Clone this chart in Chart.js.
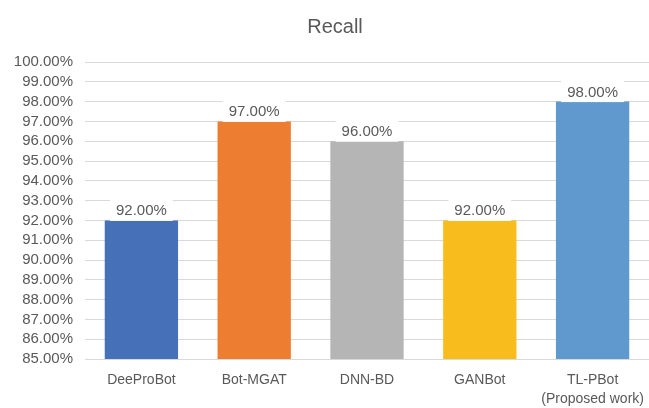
<!DOCTYPE html>
<html>
<head>
<meta charset="utf-8">
<script src="https://cdn.jsdelivr.net/npm/chart.js@4"></script>
<style>
html,body{margin:0;padding:0;background:#fff;}
#wrap{width:649px;height:408px;}
</style>
</head>
<body>
<div id="wrap"><canvas id="c" width="649" height="408"></canvas></div>
<script>
const categories = ["DeeProBot", "Bot-MGAT", "DNN-BD", "GANBot", ["TL-PBot", "(Proposed work)"]];
const recallValues = [92.00, 97.00, 96.00, 92.00, 98.00];
const barColors = ["#4670B8", "#ED7D31", "#B5B5B5", "#F8BD1C", "#5F99CD"];
const chartTitle = "Recall";
const yMin = 85, yMax = 100, yStep = 1;
const FONT = "'Liberation Sans', Arial, sans-serif";
const TXT = "#595959";

const extrasPlugin = {
  id: 'extras',
  afterDraw(chart) {
    const ctx = chart.ctx;
    ctx.save();
    ctx.font = "20px " + FONT;
    ctx.fillStyle = TXT;
    ctx.textAlign = "center";
    ctx.textBaseline = "alphabetic";
    ctx.fillText(chartTitle, 335, 33);
    ctx.restore();
  },
  afterDatasetsDraw(chart) {
    const ctx = chart.ctx;
    const meta = chart.getDatasetMeta(0);
    ctx.save();
    ctx.font = "15px " + FONT;
    ctx.textAlign = "center";
    ctx.textBaseline = "alphabetic";
    meta.data.forEach((el, i) => {
      const txt = recallValues[i].toFixed(2) + "%";
      const w = ctx.measureText(txt).width;
      const x = el.x, y = el.y;
      ctx.fillStyle = "#ffffff";
      ctx.fillRect(x - w / 2 - 6, y - 23, w + 12, 23.5);
      ctx.fillStyle = TXT;
      ctx.fillText(txt, x, y - 5);
    });
    ctx.restore();
  }
};

new Chart(document.getElementById('c'), {
  type: 'bar',
  data: {
    labels: categories,
    datasets: [{
      data: recallValues,
      backgroundColor: barColors,
      borderWidth: 0,
      categoryPercentage: 1.0,
      barPercentage: 0.65
    }]
  },
  options: {
    responsive: false,
    animation: false,
    devicePixelRatio: 1,
    layout: { padding: { left: 0, right: 0, top: 62, bottom: 0 } },
    plugins: {
      legend: { display: false },
      tooltip: { enabled: false },
      title: { display: false }
    },
    scales: {
      x: {
        grid: { display: false, drawTicks: false },
        border: { display: true, color: "#d9d9d9", width: 1 },
        ticks: {
          color: TXT,
          font: { family: FONT, size: 14, lineHeight: 1.35 },
          padding: 12,
          maxRotation: 0,
          autoSkip: false
        },
        afterFit(scale) {
          scale.height = 49;
          scale.paddingLeft = 0;
          scale.paddingRight = 0;
        }
      },
      y: {
        min: yMin, max: yMax,
        grid: { color: "#d9d9d9", lineWidth: 1, drawTicks: false },
        border: { display: false },
        ticks: {
          stepSize: yStep,
          autoSkip: false,
          color: TXT,
          font: { family: FONT, size: 15 },
          padding: 12,
          callback: v => v.toFixed(2) + "%"
        },
        afterFit(scale) { scale.width = 85; }
      }
    }
  },
  plugins: [extrasPlugin]
});
</script>
</body>
</html>
